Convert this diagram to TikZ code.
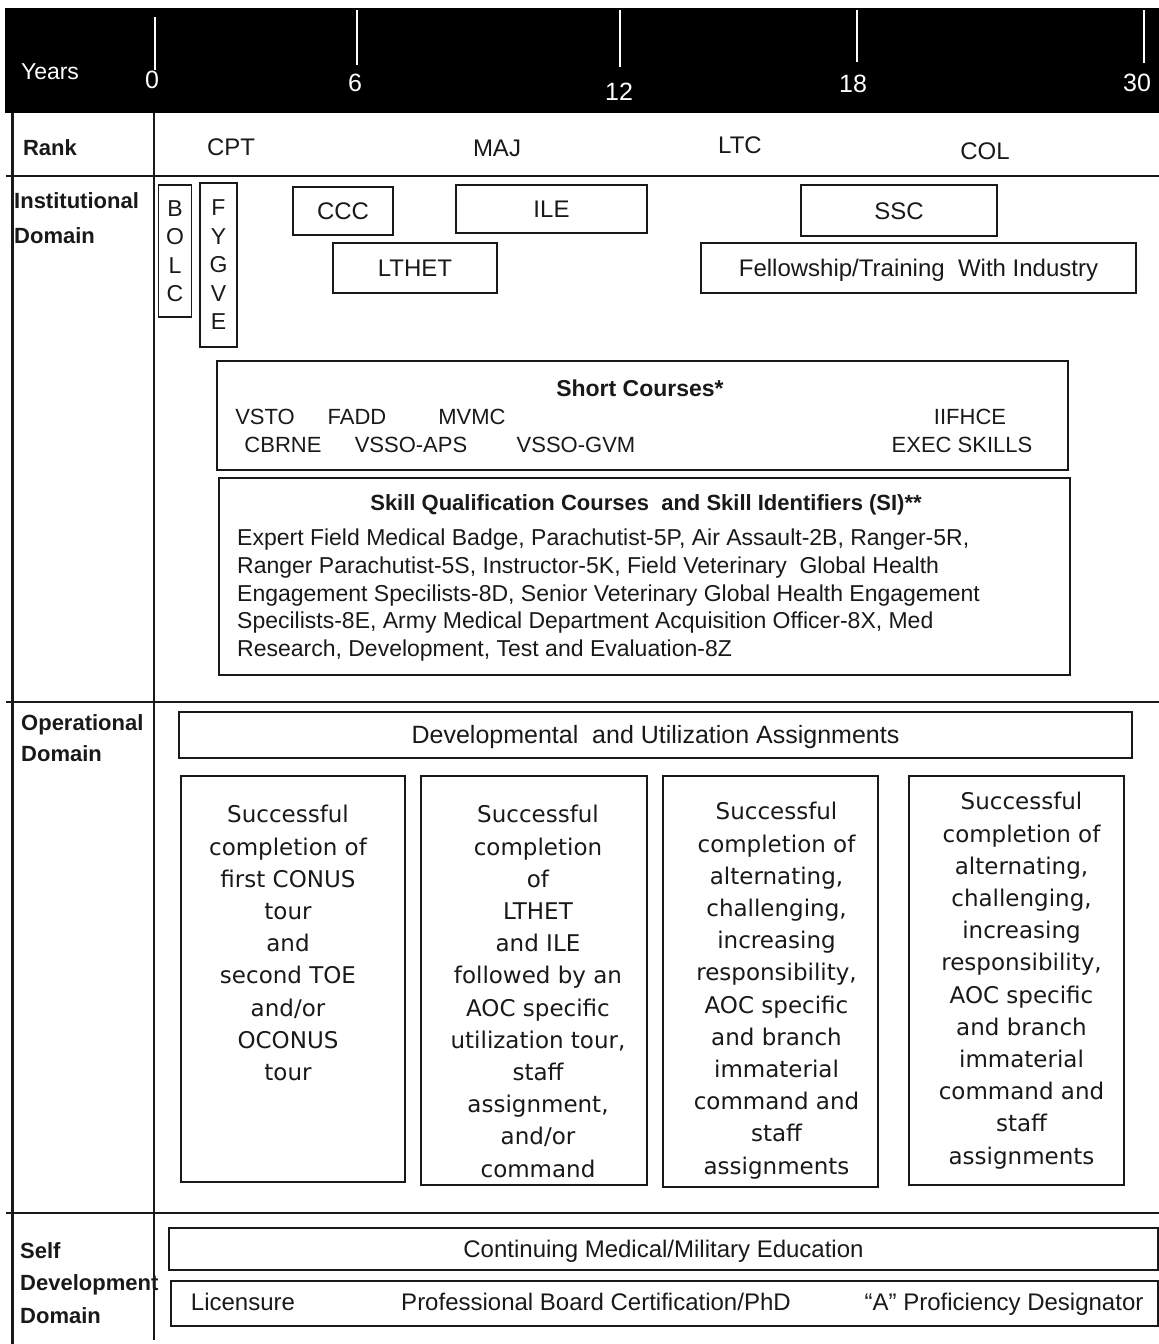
\documentclass[tikz,border=0pt]{standalone}
\usepackage{fontspec}
\setmainfont{Liberation Sans}
\newfontfamily\tourfont{DejaVu Sans}
\usetikzlibrary{positioning}
\definecolor{cdink}{RGB}{25,25,25}
\tikzset{
    yrlbl/.style={text=white, font=\fontsize{25}{25}\selectfont, inner sep=0pt, text height=17.9pt, text depth=0pt},
    yrtick/.style={draw=white, line width=1.6pt},
    gridrule/.style={draw=cdink, line width=1.5pt},
    ranklbl/.style={font=\fontsize{24}{24}\selectfont, inner sep=0pt, text=cdink, text height=17.2pt, text depth=0pt},
    domlbl/.style={font=\bfseries\fontsize{22}{33}\selectfont, align=left, anchor=north west, inner sep=0pt, text=cdink},
    box/.style={draw=cdink, line width=1.4pt, inner sep=0pt, align=center, text=cdink,
                font=\fontsize{24}{24}\selectfont, text height=17.2pt, text depth=0pt},
    vbox/.style={draw=cdink, line width=1.4pt, inner sep=0pt, align=center, text=cdink,
                 font=\fontsize{23}{28.5}\selectfont},
    crs/.style={font=\fontsize{22}{22}\selectfont, inner sep=0pt, text=cdink, text height=15.8pt, text depth=0pt},
    crshead/.style={font=\bfseries\fontsize{23}{23}\selectfont, inner sep=0pt, text=cdink, text height=16.5pt, text depth=0pt},
    skilltxt/.style={font=\fontsize{23}{27.7}\selectfont, align=left, anchor=north west, inner sep=0pt, text=cdink},
    tourtxt/.style={font=\tourfont\fontsize{23}{32.2}\selectfont, align=center, inner sep=0pt, text=cdink},
}

\begin{document}
\begin{tikzpicture}[x=1pt, y=-1pt]
    \useasboundingbox (0,0) rectangle (1159,1344);
    \fill[black] (5,8) rectangle (1159,113);
    \foreach \x/\top/\bot in {155/17/70, 357/10/65, 620/10/67, 857/10/62, 1144/10/63}
        \draw[yrtick] (\x,\top) -- (\x,\bot);
    \node[yrlbl, font=\fontsize{23}{23}\selectfont, text height=16.5pt] (years) at (50,71) {Years};
    \node[yrlbl] (yr0) at (152,80) {0};
    \node[yrlbl] (yr6) at (355,83) {6};
    \node[yrlbl] (yr12) at (619,92) {12};
    \node[yrlbl] (yr18) at (853,84) {18};
    \node[yrlbl] (yr30) at (1137,83) {30};

    \draw[gridrule, line width=3pt] (12,113) -- (12,1344);
    \draw[gridrule] (154,113) -- (154,1340);
    \foreach \y in {176,702,1213}
        \draw[gridrule] (6,\y) -- (1159,\y);

    \node[ranklbl, font=\bfseries\fontsize{22}{22}\selectfont, text height=15.8pt] (rank) at (50,148) {Rank};
    \node[ranklbl] (cpt) at (231,147) {CPT};
    \node[ranklbl] (maj) at (497,148) {MAJ};
    \node[ranklbl] (ltc) at (740,145) {LTC};
    \node[ranklbl] (col) at (985,151) {COL};

    \node[domlbl, font=\bfseries\fontsize{22}{35}\selectfont] (inst) at (14,192) {Institutional\\Domain};
    \node[vbox, minimum width=33pt, minimum height=132pt] (bolc) at (175,251) {B\\O\\L\\C};
    \node[vbox, minimum width=37pt, minimum height=164pt] (fygve) at (218.5,265) {F\\Y\\G\\V\\E};
    \node[box, minimum width=100pt, minimum height=48pt] (ccc) at (343,211) {CCC};
    \node[box, minimum width=191pt, minimum height=48pt] (ile) at (551.5,209) {ILE};
    \node[box, minimum width=164pt, minimum height=50pt] (lthet) at (415,268) {LTHET};
    \node[box, minimum width=196pt, minimum height=51pt] (ssc) at (899,210.5) {SSC};
    \node[box, minimum width=435pt, minimum height=50pt] (twi) at (918.5,268) {Fellowship/Training~ With Industry};

    \node[box, minimum width=851pt, minimum height=109pt] (short) at (642.5,415.5) {};
    \node[crshead] (shorthd) at (640,388) {Short Courses*};
    \node[crs] (vsto) at (265,417) {VSTO};
    \node[crs] (fadd) at (357,417) {FADD};
    \node[crs] (mvmc) at (472,417) {MVMC};
    \node[crs] (iifhce) at (970,417) {IIFHCE};
    \node[crs] (cbrne) at (283,445) {CBRNE};
    \node[crs] (vssoaps) at (411,445) {VSSO-APS};
    \node[crs] (vssogvm) at (576,445) {VSSO-GVM};
    \node[crs] (exec) at (962,445) {EXEC SKILLS};

    \node[box, minimum width=851pt, minimum height=197pt] (sqc) at (644.5,576.5) {};
    \node[crshead, font=\bfseries\fontsize{22}{22}\selectfont, text height=15.8pt] (sqchd) at (646,503) {Skill Qualification Courses~ and Skill Identifiers (SI)**};
    \node[skilltxt] (sqcbody) at (237,529) {Expert Field Medical Badge, Parachutist-5P, Air Assault-2B, Ranger-5R,\\
        Ranger Parachutist-5S, Instructor-5K, Field Veterinary~ Global Health\\
        Engagement Specilists-8D, Senior Veterinary Global Health Engagement\\
        Specilists-8E, Army Medical Department Acquisition Officer-8X, Med\\
        Research, Development, Test and Evaluation-8Z};

    \node[domlbl, font=\bfseries\fontsize{22}{31}\selectfont] (oper) at (21,714) {Operational\\Domain};
    \node[box, minimum width=953pt, minimum height=46pt, font=\fontsize{25}{25}\selectfont, text height=17.9pt] (dua) at (655.5,735) {Developmental~ and Utilization Assignments};
    \node[box, minimum width=224pt, minimum height=406pt] (op1) at (293,979) {};
    \node[box, minimum width=226pt, minimum height=409pt] (op2) at (534,980.5) {};
    \node[box, minimum width=215pt, minimum height=411pt] (op3) at (770.5,981.5) {};
    \node[box, minimum width=215pt, minimum height=409pt] (op4) at (1016.5,980.5) {};
    \node[tourtxt, below=30pt of op1.north, xshift=-5pt] (op1txt) {Successful\\completion of\\first CONUS\\tour\\and\\second TOE\\and/or\\OCONUS\\tour};
    \node[tourtxt, below=30pt of op2.north, xshift=4pt] (op2txt) {Successful\\completion\\of\\LTHET\\and ILE\\followed by an\\AOC specific\\utilization tour,\\staff\\assignment,\\and/or\\command};
    \node[tourtxt, below=27pt of op3.north, xshift=6pt] (op3txt) {Successful\\completion of\\alternating,\\challenging,\\increasing\\responsibility,\\AOC specific\\and branch\\immaterial\\command and\\staff\\assignments};
    \node[tourtxt, below=17pt of op4.north, xshift=5pt] (op4txt) {Successful\\completion of\\alternating,\\challenging,\\increasing\\responsibility,\\AOC specific\\and branch\\immaterial\\command and\\staff\\assignments};

    \node[domlbl, font=\bfseries\fontsize{22}{32.5}\selectfont] (self) at (20,1242) {Self\\Development\\Domain};
    \node[box, minimum width=989pt, minimum height=42pt] (cme) at (663.5,1249) {Continuing Medical/Military Education};
    \node[box, minimum width=987pt, minimum height=45pt] (lic) at (664.5,1303.5) {};
    \node[crs, font=\fontsize{24}{24}\selectfont, text height=17.2pt] (licensure) at (243,1302) {Licensure};
    \node[crs, font=\fontsize{24}{24}\selectfont, text height=17.2pt] (board) at (596,1302) {Professional Board Certification/PhD};
    \node[crs, font=\fontsize{24}{24}\selectfont, text height=17.2pt] (aprof) at (1004,1302) {“A” Proficiency Designator};
\end{tikzpicture}
\end{document}
